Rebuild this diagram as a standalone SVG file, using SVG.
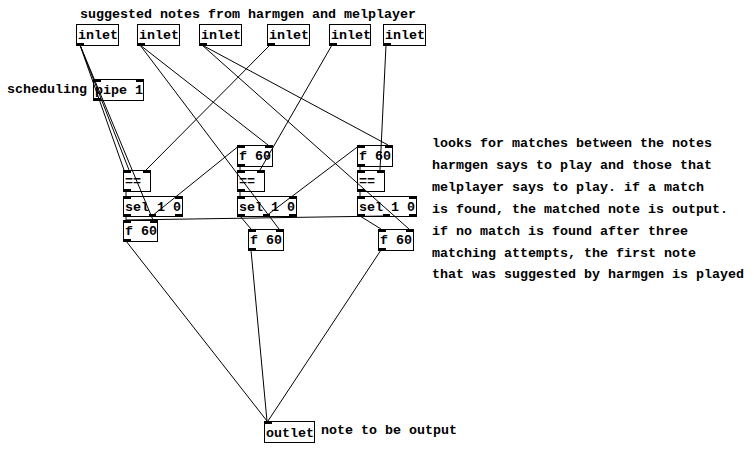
<svg xmlns="http://www.w3.org/2000/svg" width="754" height="455" viewBox="0 0 754 455">
<style>
text{font-family:"Liberation Mono","DejaVu Sans Mono",monospace;font-size:13.33px;font-weight:bold;fill:#000}
.box{fill:none;stroke:#000;stroke-width:1}
.io{fill:#000}
#connectors line{stroke:#000;stroke-width:1;fill:none}
</style>
<rect width="754" height="455" fill="#fff"/>
<g id="connectors">
<line x1="80" y1="45" x2="124" y2="170"/>
<line x1="80" y1="45" x2="129" y2="170"/>
<line x1="80" y1="45" x2="153" y2="220"/>
<line x1="140" y1="45" x2="268" y2="145"/>
<line x1="140" y1="45" x2="279" y2="229"/>
<line x1="202" y1="45" x2="388" y2="145"/>
<line x1="202" y1="45" x2="409" y2="229"/>
<line x1="270" y1="45" x2="146" y2="170"/>
<line x1="332" y1="45" x2="260" y2="170"/>
<line x1="386" y1="45" x2="380" y2="170"/>
<line x1="126" y1="191" x2="126" y2="196"/>
<line x1="240" y1="191" x2="240" y2="196"/>
<line x1="360" y1="191" x2="360" y2="196"/>
<line x1="240" y1="166" x2="240" y2="170"/>
<line x1="360" y1="166" x2="360" y2="170"/>
<line x1="126" y1="216" x2="126" y2="220"/>
<line x1="152" y1="216" x2="240" y2="145"/>
<line x1="240" y1="216" x2="251" y2="229"/>
<line x1="266" y1="216" x2="360" y2="145"/>
<line x1="360" y1="216" x2="381" y2="229"/>
<line x1="386" y1="216" x2="126" y2="220"/>
<line x1="126" y1="241" x2="267" y2="421"/>
<line x1="251" y1="250" x2="267" y2="421"/>
<line x1="381" y1="250" x2="268" y2="421"/>
</g>
<g id="comments">
<text x="80" y="18">suggested notes from harmgen and melplayer</text>
<text x="7" y="93">scheduling</text>
<text x="321" y="434">note to be output</text>
<text x="432" y="147">looks for matches between the notes</text>
<text x="432" y="169">harmgen says to play and those that</text>
<text x="432" y="191">melplayer says to play. if a match</text>
<text x="432" y="213">is found, the matched note is output.</text>
<text x="432" y="235">if no match is found after three</text>
<text x="432" y="257">matching attempts, the first note</text>
<text x="432" y="278">that was suggested by harmgen is played</text>
</g>
<g id="inlet1"><rect class="box" x="76.5" y="24.5" width="42" height="21"/><rect class="io" x="77" y="43" width="7" height="2"/><text x="78" y="39">inlet</text></g>
<g id="inlet2"><rect class="box" x="137.5" y="24.5" width="42" height="21"/><rect class="io" x="138" y="43" width="7" height="2"/><text x="139" y="39">inlet</text></g>
<g id="inlet3"><rect class="box" x="199.5" y="24.5" width="42" height="21"/><rect class="io" x="200" y="43" width="7" height="2"/><text x="201" y="39">inlet</text></g>
<g id="inlet4"><rect class="box" x="267.5" y="24.5" width="42" height="21"/><rect class="io" x="268" y="43" width="7" height="2"/><text x="269" y="39">inlet</text></g>
<g id="inlet5"><rect class="box" x="329.5" y="24.5" width="41" height="21"/><rect class="io" x="330" y="43" width="7" height="2"/><text x="331" y="39">inlet</text></g>
<g id="inlet6"><rect class="box" x="383.5" y="24.5" width="42" height="21"/><rect class="io" x="384" y="43" width="7" height="2"/><text x="385" y="39">inlet</text></g>
<g id="pipe1"><rect class="box" x="93.5" y="79.5" width="50" height="21"/><rect class="io" x="94" y="80" width="7" height="2"/><rect class="io" x="136" y="80" width="7" height="2"/><rect class="io" x="94" y="98" width="7" height="2"/><text x="95" y="94">pipe 1</text></g>
<g id="eq1"><rect class="box" x="123.5" y="170.5" width="27" height="21"/><rect class="io" x="124" y="171" width="7" height="2"/><rect class="io" x="143" y="171" width="7" height="2"/><rect class="io" x="124" y="189" width="7" height="2"/><text x="125" y="185">==</text></g>
<g id="sel1"><rect class="box" x="123.5" y="196.5" width="59" height="20"/><rect class="io" x="124" y="197" width="7" height="2"/><rect class="io" x="175" y="197" width="7" height="2"/><rect class="io" x="124" y="214" width="7" height="2"/><rect class="io" x="149" y="214" width="7" height="2"/><rect class="io" x="175" y="214" width="7" height="2"/><text x="125" y="211">sel 1 0</text></g>
<g id="f1out"><rect class="box" x="123.5" y="220.5" width="34" height="21"/><rect class="io" x="124" y="221" width="7" height="2"/><rect class="io" x="150" y="221" width="7" height="2"/><rect class="io" x="124" y="239" width="7" height="2"/><text x="125" y="235">f 60</text></g>
<g id="f2in"><rect class="box" x="237.5" y="145.5" width="35" height="21"/><rect class="io" x="238" y="146" width="7" height="2"/><rect class="io" x="265" y="146" width="7" height="2"/><rect class="io" x="238" y="164" width="7" height="2"/><text x="239" y="160">f 60</text></g>
<g id="eq2"><rect class="box" x="237.5" y="170.5" width="27" height="21"/><rect class="io" x="238" y="171" width="7" height="2"/><rect class="io" x="257" y="171" width="7" height="2"/><rect class="io" x="238" y="189" width="7" height="2"/><text x="239" y="185">==</text></g>
<g id="sel2"><rect class="box" x="237.5" y="196.5" width="59" height="20"/><rect class="io" x="238" y="197" width="7" height="2"/><rect class="io" x="289" y="197" width="7" height="2"/><rect class="io" x="238" y="214" width="7" height="2"/><rect class="io" x="263" y="214" width="7" height="2"/><rect class="io" x="289" y="214" width="7" height="2"/><text x="239" y="211">sel 1 0</text></g>
<g id="f2out"><rect class="box" x="248.5" y="229.5" width="35" height="21"/><rect class="io" x="249" y="230" width="7" height="2"/><rect class="io" x="276" y="230" width="7" height="2"/><rect class="io" x="249" y="248" width="7" height="2"/><text x="250" y="244">f 60</text></g>
<g id="f3in"><rect class="box" x="357.5" y="145.5" width="35" height="21"/><rect class="io" x="358" y="146" width="7" height="2"/><rect class="io" x="385" y="146" width="7" height="2"/><rect class="io" x="358" y="164" width="7" height="2"/><text x="359" y="160">f 60</text></g>
<g id="eq3"><rect class="box" x="357.5" y="170.5" width="27" height="21"/><rect class="io" x="358" y="171" width="7" height="2"/><rect class="io" x="377" y="171" width="7" height="2"/><rect class="io" x="358" y="189" width="7" height="2"/><text x="359" y="185">==</text></g>
<g id="sel3"><rect class="box" x="357.5" y="196.5" width="59" height="20"/><rect class="io" x="358" y="197" width="7" height="2"/><rect class="io" x="409" y="197" width="7" height="2"/><rect class="io" x="358" y="214" width="7" height="2"/><rect class="io" x="383" y="214" width="7" height="2"/><rect class="io" x="409" y="214" width="7" height="2"/><text x="359" y="211">sel 1 0</text></g>
<g id="f3out"><rect class="box" x="378.5" y="229.5" width="35" height="21"/><rect class="io" x="379" y="230" width="7" height="2"/><rect class="io" x="406" y="230" width="7" height="2"/><rect class="io" x="379" y="248" width="7" height="2"/><text x="380" y="244">f 60</text></g>
<g id="outlet"><rect class="box" x="264.5" y="421.5" width="50" height="21"/><rect class="io" x="265" y="422" width="7" height="2"/><text x="266" y="437">outlet</text></g>
</svg>
